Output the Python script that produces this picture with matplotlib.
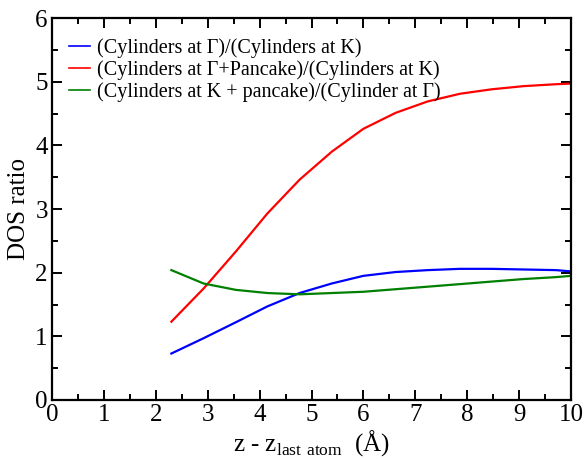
import matplotlib
matplotlib.use("Agg")
import matplotlib.pyplot as plt
from matplotlib.ticker import MultipleLocator

plt.rcParams['font.family'] = ['Liberation Serif', 'DejaVu Serif']
plt.rcParams['mathtext.fontset'] = 'custom'
plt.rcParams['mathtext.rm'] = 'Liberation Serif'

x = [2.3, 2.92, 3.54, 4.15, 4.77, 5.39, 6.0, 6.62, 7.24, 7.86, 8.47, 9.09, 9.71, 10.0]
blue = [0.73, 0.97, 1.22, 1.47, 1.68, 1.83, 1.95, 2.01, 2.04, 2.06, 2.06, 2.05, 2.04, 2.02]
red = [1.23, 1.75, 2.33, 2.93, 3.46, 3.90, 4.26, 4.51, 4.69, 4.81, 4.88, 4.93, 4.96, 4.97]
green = [2.04, 1.83, 1.73, 1.68, 1.66, 1.68, 1.70, 1.74, 1.78, 1.82, 1.86, 1.90, 1.93, 1.95]
labels = ["(Cylinders at \u0393)/(Cylinders at K)",
          "(Cylinders at \u0393+Pancake)/(Cylinders at K)",
          "(Cylinders at K + pancake)/(Cylinder at \u0393)"]
colors = ["#0000ff", "#ff0000", "#008000"]

fig = plt.figure(figsize=(5.85, 4.59), dpi=100)
ax = fig.add_axes([52/585, 59/459, 519/585, 382/459])
for ys, c, l in zip([blue, red, green], colors, labels):
    ax.plot(x, ys, color=c, lw=1.6, label=l)

ax.set_xlim(0, 10)
ax.set_ylim(0, 6)
ax.xaxis.set_major_locator(MultipleLocator(1))
ax.xaxis.set_minor_locator(MultipleLocator(0.5))
ax.yaxis.set_major_locator(MultipleLocator(1))
ax.yaxis.set_minor_locator(MultipleLocator(0.5))
ax.tick_params(which='both', direction='in', top=True, right=True, labelsize=18, width=1.4)
ax.tick_params(which='major', length=7, pad=3)
ax.tick_params(which='minor', length=4)
for s in ax.spines.values():
    s.set_linewidth(1.6)

ax.set_ylabel("DOS ratio", fontsize=18, labelpad=4)
ax.set_xlabel("z - z$_{\\mathrm{last\\ atom}}$  (\u00c5)", fontsize=18, labelpad=1.5)

leg = ax.legend(loc='upper left', bbox_to_anchor=(0.005, 0.985), frameon=False, fontsize=14.5,
                handlelength=1.05, handletextpad=0.35, labelspacing=0.12, borderaxespad=0.3)
for h in leg.get_lines():
    h.set_linewidth(1.2)

fig.savefig("out.png", dpi=100)
